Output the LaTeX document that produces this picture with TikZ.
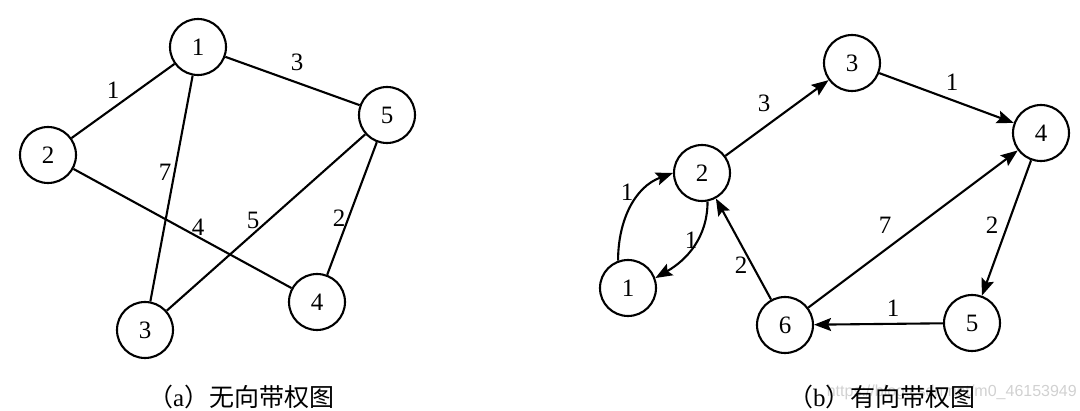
\documentclass[tikz,border=0pt]{standalone}
\usepackage{fontspec}
\setmainfont{Liberation Serif}
\newfontfamily\cjk{Noto Sans CJK SC}
\newfontfamily\wmfont{Liberation Sans}
\usetikzlibrary{arrows.meta}
\begin{document}
\begin{tikzpicture}[x=1pt,y=-1pt,
  vtx/.style={circle,draw,line width=2.1pt,minimum size=56pt,inner sep=0pt,font=\fontsize{25}{28}\selectfont},
  wt/.style={inner sep=1pt,font=\fontsize{25}{28}\selectfont},
  und/.style={line width=2.1pt},
  arc/.style={line width=2.1pt,-{Stealth[length=17pt,width=13pt,inset=3pt]}},
  captxt/.style={anchor=west,inner sep=0pt,font=\fontsize{25}{28}\selectfont}]
\useasboundingbox (0,0) rectangle (1080,411);
% (a) undirected
\node[vtx] (a1) at (198,47) {1};
\node[vtx] (a2) at (48,155) {2};
\node[vtx] (a5) at (387,115) {5};
\node[vtx] (a3) at (145,330) {3};
\node[vtx] (a4) at (317,302) {4};
\draw[und] (a1) -- (a2);
\draw[und] (a1) -- (a5);
\draw[und] (a1) -- (a3);
\draw[und] (a2) -- (a4);
\draw[und] (a5) -- (a3);
\draw[und] (a5) -- (a4);
\node[wt] (wa12) at (113,90) {1};
\node[wt] (wa15) at (297,62) {3};
\node[wt] (wa13) at (165,172) {7};
\node[wt] (wa24) at (198,227) {4};
\node[wt] (wa53) at (253,220) {5};
\node[wt] (wa54) at (339,218) {2};
\node[captxt] (capa) at (148,397) {{\cjk （}a{\cjk ）无向带权图}};
% (b) directed
\node[vtx] (b3) at (852,63) {3};
\node[vtx] (b2) at (702,173) {2};
\node[vtx] (b4) at (1041,133) {4};
\node[vtx] (b1) at (628,288) {1};
\node[vtx] (b6) at (785,325) {6};
\node[vtx] (b5) at (972,323) {5};
\draw[arc] (b2) -- (b3);
\draw[arc] (b3) -- (b4);
\draw[arc] (b4) -- (b5);
\draw[arc] (b5) -- (b6);
\draw[arc] (b6) -- (b2);
\draw[arc] (b6) -- (b4);
\draw[arc] (b1.110) to[out=90,in=200] (b2.180);
\draw[arc] (b2.281) to[out=-90,in=30] (b1.20);
\node[wt] (wb23) at (764,103) {3};
\node[wt] (wb34) at (952,82) {1};
\node[wt] (wb45) at (992,225) {2};
\node[wt] (wb56) at (893,308) {1};
\node[wt] (wb64) at (885,225) {7};
\node[wt] (wb62) at (741,265) {2};
\node[wt] (wb12) at (627,192) {1};
\node[wt] (wb21) at (691,240) {1};
\node[anchor=east,inner sep=0pt,text=black!18,font=\wmfont\fontsize{16}{18}\selectfont] (wm) at (1077,392) {https://blog.csdn.net/m0\_46153949};
\node[captxt] (capb) at (788,397) {{\cjk （}b{\cjk ）有向带权图}};
\end{tikzpicture}
\end{document}
